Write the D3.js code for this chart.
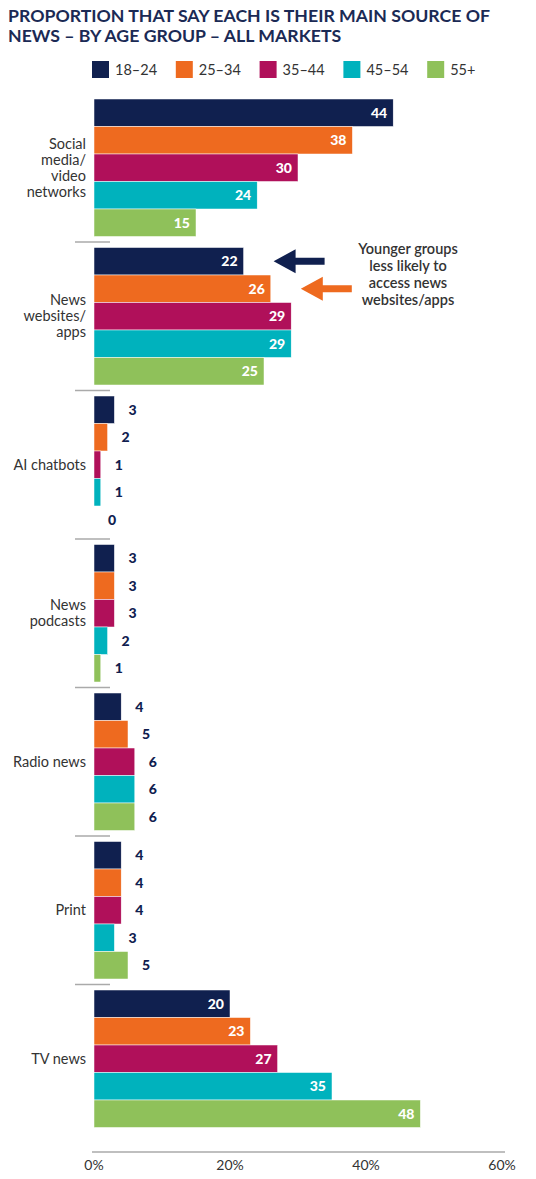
<!DOCTYPE html>
<html><head><meta charset="utf-8">
<script src="https://cdn.jsdelivr.net/npm/d3@7/dist/d3.min.js"></script>
<style>
body{margin:0;background:#fff;}
svg{display:block;font-family:Lato,"Open Sans",sans-serif;}
</style></head>
<body>
<svg id="chart" width="536" height="1179"></svg>
<script>
const titleLines = ["PROPORTION THAT SAY EACH IS THEIR MAIN SOURCE OF", "NEWS – BY AGE GROUP – ALL MARKETS"];
const categories = ["Social media/ video networks", "News websites/ apps", "AI chatbots", "News podcasts", "Radio news", "Print", "TV news"];
const categoryLines = [["Social","media/","video","networks"],["News","websites/","apps"],["AI chatbots"],["News","podcasts"],["Radio news"],["Print"],["TV news"]];
const seriesNames = ["18–24", "25–34", "35–44", "45–54", "55+"];
const colors = ["#10204f", "#ee6a1f", "#b0105a", "#00b2bd", "#8fc15a"];
const v1824 = [44, 22, 3, 3, 4, 4, 20];
const v2534 = [38, 26, 2, 3, 5, 4, 23];
const v3544 = [30, 29, 1, 3, 6, 4, 27];
const v4554 = [24, 29, 1, 2, 6, 3, 35];
const v55 = [15, 25, 0, 1, 6, 5, 48];
const xTicks = [0, 20, 40, 60];
const annotationLines = ["Younger groups", "less likely to", "access news", "websites/apps"];

const seriesValues = [v1824, v2534, v3544, v4554, v55];
const svg = d3.select("#chart");

const x = d3.scaleLinear().domain([0, 60]).range([94, 502]);
const yG = d3.scaleBand().domain(categories).range([93.5, 93.5 + 7 * 148.5]).padding(0);
const yS = d3.scaleBand().domain(seriesNames).range([5.5, 143]).padding(0);

// Title
svg.append("g").selectAll("text").data(titleLines).join("text")
  .attr("x", 8).attr("y", (d, i) => 22 + i * 20)
  .attr("fill", "#1b2a55").attr("font-weight", 700).attr("font-size", 17.7)
  .text(d => d);

// Legend
const leg = svg.append("g").selectAll("g").data(seriesNames).join("g")
  .attr("transform", (d, i) => `translate(${92 + i * 83.8},61)`);
leg.append("rect").attr("width", 17).attr("height", 17).attr("fill", (d, i) => colors[i]);
leg.append("text").attr("x", 23).attr("y", 14).attr("font-size", 14.5).attr("fill", "#333").text(d => d);

// Groups
const groups = svg.append("g").selectAll("g").data(categories).join("g")
  .attr("transform", d => `translate(0,${yG(d)})`);

groups.each(function (cat, ci) {
  const g = d3.select(this);
  seriesNames.forEach((s, si) => {
    const val = seriesValues[si][ci];
    g.append("rect")
      .attr("x", x(0)).attr("y", yS(s))
      .attr("width", x(val) - x(0)).attr("height", yS.bandwidth())
      .attr("fill", colors[si]).attr("stroke", "#fff").attr("stroke-width", 0.5);
    const inside = val >= 10;
    g.append("text")
      .attr("x", inside ? x(val) - 6 : x(val) + 14)
      .attr("y", yS(s) + yS.bandwidth() / 2 + 5)
      .attr("text-anchor", inside ? "end" : "start")
      .attr("font-weight", 900).attr("font-size", 14)
      .attr("fill", inside ? "#fff" : "#10204f")
      .text(val);
  });
  const lines = categoryLines[ci];
  const mid = yG.bandwidth() / 2;
  const lh = 16;
  g.append("text").attr("text-anchor", "end").attr("font-size", 14.5).attr("fill", "#333")
    .selectAll("tspan").data(lines).join("tspan")
    .attr("x", 86)
    .attr("y", (d, i) => mid + 5 + (i - (lines.length - 1) / 2) * lh)
    .text(d => d);
  if (ci > 0) {
    g.append("line").attr("x1", 75).attr("x2", 110).attr("y1", 0).attr("y2", 0)
      .attr("stroke", "#aaa").attr("stroke-width", 1.5);
  }
});

// Axis
const axisY = 1152;
svg.append("line").attr("x1", x(0) - 2).attr("x2", x(60) + 3).attr("y1", axisY).attr("y2", axisY)
  .attr("stroke", "#aaa").attr("stroke-width", 1.5);
svg.append("g").selectAll("text").data(xTicks).join("text")
  .attr("x", d => x(d)).attr("y", 1170).attr("text-anchor", "middle")
  .attr("font-size", 14).attr("fill", "#333").text(d => d + "%");

// Annotation arrows (from bar ends of News websites/apps, 18–24 and 25–34)
const ci2 = 1;
[0, 1].forEach(si => {
  const val = seriesValues[si][ci2];
  const tip = x(val) + 30;
  const cy = yG(categories[ci2]) + yS(seriesNames[si]) + yS.bandwidth() / 2;
  const len = 51, headL = 22, headH = 12, shaft = 3.5;
  const path = `M${tip},${cy} L${tip + headL},${cy - headH} L${tip + headL},${cy - shaft} L${tip + len},${cy - shaft} L${tip + len},${cy + shaft} L${tip + headL},${cy + shaft} L${tip + headL},${cy + headH} Z`;
  svg.append("path").attr("d", path).attr("fill", colors[si]);
});

svg.append("text").attr("text-anchor", "middle").attr("font-size", 14.5).attr("font-weight", 600).attr("fill", "#333")
  .selectAll("tspan").data(annotationLines).join("tspan")
  .attr("x", 408).attr("y", (d, i) => 254 + i * 17).text(d => d);
</script>
</body></html>
